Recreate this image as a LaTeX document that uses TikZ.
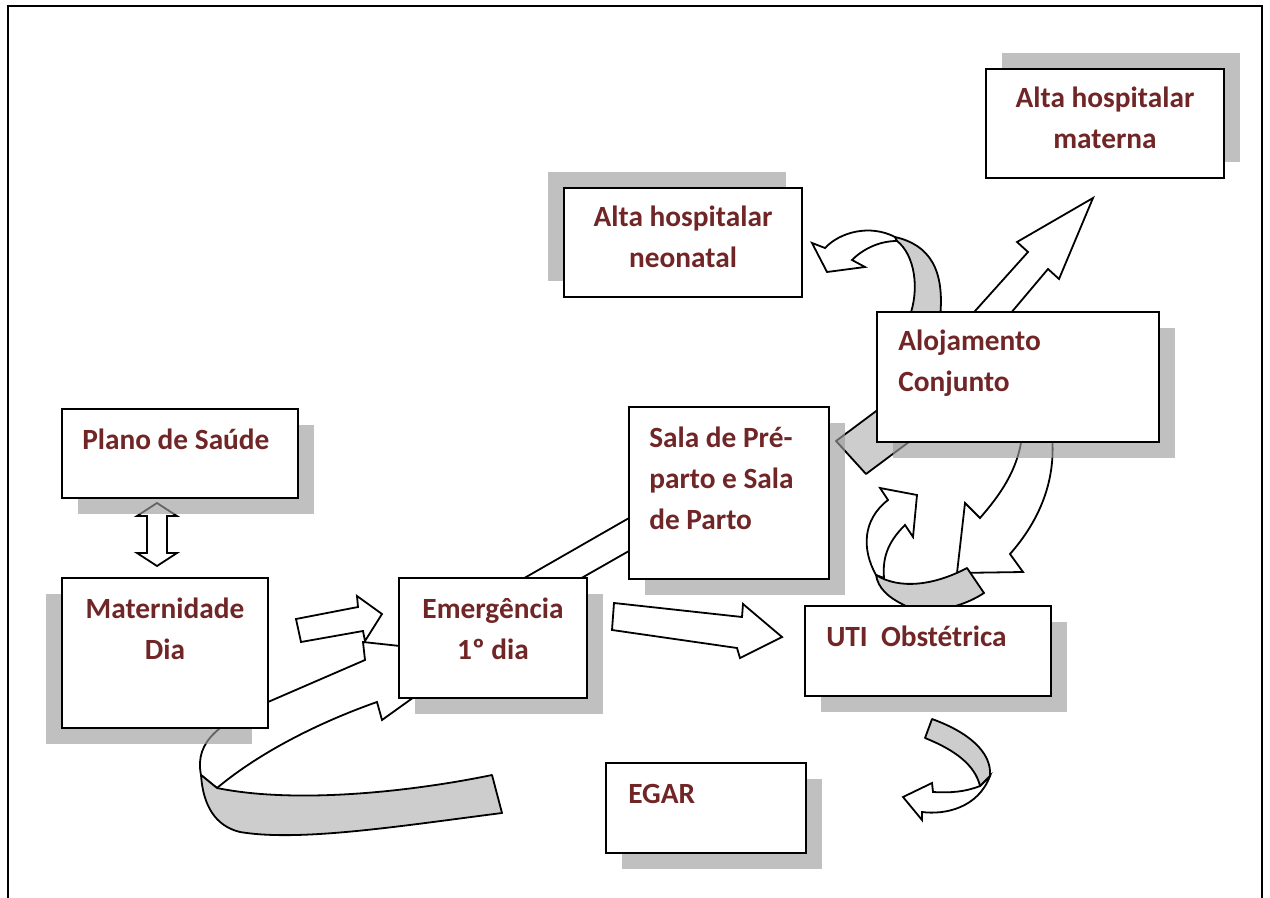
\documentclass[tikz,border=0pt]{standalone}
\usepackage{fontspec}
\setmainfont{Carlito}
\usetikzlibrary{fit}
\definecolor{labelred}{RGB}{112,38,38}
\definecolor{ribbongray}{RGB}{205,205,205}
\definecolor{shadowgray}{RGB}{156,156,156}

% box with a drop shadow: name, x1, y1, x2, y2, shadow dx, shadow dy
\newcommand\flowbox[7]{%
  \fill[boxshadow] ({#2+(#6)},{#3+(#7)}) rectangle ({#4+(#6)},{#5+(#7)});
  \node[box, fit={(#2,#3)(#4,#5)}] (#1) {};}

\begin{document}
\begin{tikzpicture}[x=0.75pt,y=-0.75pt,
  box/.style={draw, line width=1.5pt, fill=white, inner sep=0pt},
  boxshadow/.style={fill=shadowgray, fill opacity=0.64},
  lbl/.style={text=labelred, font=\fontsize{22}{30.75}\selectfont\bfseries, inner sep=0pt},
  blockarrow/.style={draw, fill=white, line width=1.35pt, line join=miter},
  ribbonpart/.style={draw, fill=ribbongray, line width=1.35pt, line join=round}]

\useasboundingbox (0,0) rectangle (1270,898);

% page frame
\draw[line width=1.5pt] (8,898) -- (8,6) -- (1262,6) -- (1262,898);

% ---- arrows (drawn beneath the boxes) ----
% Plano de Saude <-> Maternidade Dia
\draw[blockarrow] (157,503) -- (177,516) -- (167,516) -- (167,553) -- (177,553)
  -- (157,566) -- (137,553) -- (147,553) -- (147,516) -- (137,516) -- cycle;

% loop from below Maternidade Dia into Emergencia
\draw[blockarrow] (201,775) .. controls (194,740) and (222,722) .. (268,702)
  -- (365,660) -- (363,642) -- (474,654) -- (382,720) -- (377,702)
  .. controls (320,722) and (260,752) .. (217,788) -- cycle;
\draw[ribbonpart] (201,775) -- (217,788) .. controls (300,805) and (420,790) .. (492,775)
  -- (502,813) .. controls (400,826) and (300,842) .. (240,832)
  .. controls (215,826) and (203,805) .. (201,775) -- cycle;

% Maternidade Dia -> Emergencia
\draw[blockarrow] (296,619) -- (358,607) -- (357,596) -- (382,614) -- (365,641)
  -- (363,631) -- (301,642) -- cycle;

% Emergencia -> Sala de Pre-parto
\draw[blockarrow] (500,592) -- (650,506) -- (650,539) -- (557,592) -- cycle;

% Emergencia -> UTI Obstetrica
\draw[blockarrow] (614,603) -- (742,617) -- (743,604) -- (782,637) -- (740,658)
  -- (737,648) -- (612,630) -- cycle;

% Alojamento -> Alta hospitalar materna
\draw[blockarrow] (967,320) -- (1028,252) -- (1017,242) -- (1093,198) -- (1059,279)
  -- (1048,269) -- (1005,320) -- cycle;

% Alojamento -> Alta hospitalar neonatal
\draw[blockarrow] (895,237) .. controls (870,224) and (840,232) .. (825,248)
  -- (812,243) -- (827,272) -- (865,267) -- (852,260)
  .. controls (862,250) and (878,241) .. (897,241) -- cycle;
\draw[ribbonpart] (895,237) .. controls (930,245) and (945,270) .. (940,318)
  -- (909,318) .. controls (920,290) and (915,255) .. (897,241) -- cycle;

% Alojamento -> Sala de Pre-parto (ribbon end)
\draw[ribbonpart] (836,441) -- (866,474) -- (925,430) -- (895,397) -- cycle;

% Alojamento -> UTI (down)
\draw[blockarrow] (1022,436) .. controls (1018,470) and (1000,495) .. (980,518)
  -- (965,503) -- (957,573) -- (1023,572) -- (1010,554)
  .. controls (1040,520) and (1056,480) .. (1052,436) -- cycle;

% UTI -> Alojamento (up)
\draw[blockarrow] (876,575) .. controls (862,550) and (862,520) .. (888,500)
  -- (880,488) -- (917,495) -- (913,537) -- (905,525)
  .. controls (890,540) and (882,555) .. (884,578) -- cycle;
\draw[ribbonpart] (876,575) .. controls (900,590) and (935,585) .. (967,568)
  -- (984,593) .. controls (955,612) and (918,614) .. (902,604)
  .. controls (888,597) and (878,588) .. (876,575) -- cycle;

% UTI -> EGAR
\draw[blockarrow] (980,786) .. controls (965,792) and (950,793) .. (933,792)
  -- (932,783) -- (903,797) -- (922,820) -- (922,812)
  .. controls (945,815) and (978,808) .. (990,776) -- cycle;
\draw[ribbonpart] (932,719) .. controls (968,732) and (992,752) .. (990,776)
  -- (980,786) .. controls (975,765) and (955,750) .. (925,738) -- cycle;

% ---- boxes ----
\flowbox{plano}{62}{409}{298}{498}{16}{16}
\flowbox{mat}{62}{578}{268}{728}{-16}{16}
\flowbox{emerg}{399}{578}{587}{698}{16}{16}
\flowbox{sala}{629}{407}{829}{579}{16}{16}
\flowbox{aloj}{877}{312}{1159}{442}{16}{16}
\flowbox{uti}{805}{606}{1051}{696}{16}{16}
\flowbox{egar}{606}{763}{806}{853}{16}{16}
\flowbox{neo}{564}{188}{802}{297}{-16}{-16}
\flowbox{mater}{986}{69}{1224}{178}{16}{-16}

% ---- labels (multi-line labels sit on the baseline of their last line) ----
\node[lbl, anchor=base west] (plano-t) at (82,449) {Plano de Saúde};
\node[lbl, align=center, anchor=base] (mat-t) at (165,659) {Maternidade\\Dia};
\node[lbl, align=center, anchor=base] (emerg-t) at (493,659) {Emergência\\1º dia};
\node[lbl, align=left, anchor=base west] (sala-t) at (649,529) {Sala de Pré-\\parto e Sala\\de Parto};
\node[lbl, align=left, anchor=base west] (aloj-t) at (898,392) {Alojamento\\Conjunto};
\node[lbl, anchor=base west] (uti-t) at (826,646) {UTI\ \ Obstétrica};
\node[lbl, anchor=base west] (egar-t) at (628,803) {EGAR};
\node[lbl, align=center, anchor=base] (neo-t) at (683,268) {Alta hospitalar\\neonatal};
\node[lbl, align=center, anchor=base] (mater-t) at (1105,149) {Alta hospitalar\\materna};

\end{tikzpicture}
\end{document}
